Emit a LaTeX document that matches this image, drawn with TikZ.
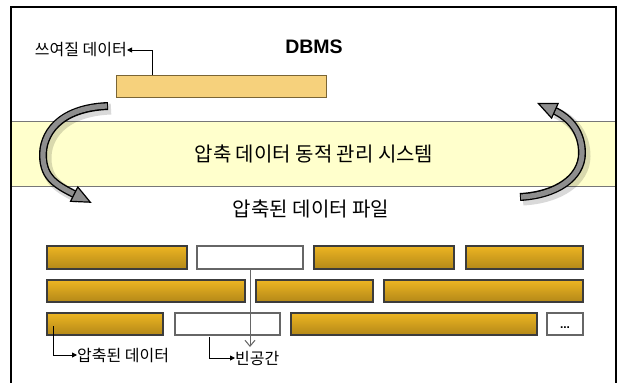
\documentclass[tikz,border=0pt]{standalone}
\usepackage{fontspec}
\newfontfamily\kr{Noto Sans CJK KR}
\newfontfamily\latinfont{Liberation Sans}
\usetikzlibrary{arrows.meta,calc}
\definecolor{bandfill}{HTML}{FFFFCC}
\definecolor{bandline}{HTML}{777777}
\definecolor{goldtop}{HTML}{EDB522}
\definecolor{goldbot}{HTML}{B38818}
\definecolor{goldedge}{HTML}{3C3C3C}
\definecolor{paleorange}{HTML}{F6D17C}
\definecolor{paleedge}{HTML}{7A6535}
\definecolor{arrowgray}{HTML}{8E8E8E}
\definecolor{thinline}{HTML}{666666}
\begin{document}
\begin{tikzpicture}[x=1pt,y=-1pt,
  blk/.style={anchor=north west, inner sep=0pt, outer sep=0pt},
  goldbox/.style={blk, draw=goldedge, line width=1.1pt, top color=goldtop, bottom color=goldbot},
  whitebox/.style={blk, draw=gray!80!black, line width=1.1pt, fill=white},
  krsmall/.style={font=\kr\fontsize{16}{18}\selectfont, inner sep=0pt},
  krbig/.style={font=\kr\fontsize{20}{22}\selectfont, inner sep=0pt},
  labelarrow/.style={line width=0.9pt, -{Triangle[length=5pt,width=5pt]}},
  curvebody/.style={line width=8pt, black, line cap=butt},
  curveinner/.style={line width=5.2pt, arrowgray, line cap=butt},
  curveshadow/.style={line width=11pt, black, opacity=0.15},
  curvehead/.style={draw=black, line width=1.2pt, fill=arrowgray, line join=miter}
]
\useasboundingbox (0,0) rectangle (619,383);
\fill[white] (0,0) rectangle (619,383);

% band
\node[blk, fill=bandfill, minimum width=605pt, minimum height=65pt] (band) at (11,121) {};
\draw[bandline, line width=1pt] (band.north west) -- (band.north east);
\draw[bandline, line width=1pt] (band.south west) -- (band.south east);

% frame
\draw[line width=1.6pt] (11,395) -- (11,7) -- (616,7) -- (616,395);

% top
\node[font=\latinfont\bfseries\fontsize{19.5}{21}\selectfont, inner sep=0pt] (dbms) at (314,47) {DBMS};
\node[blk, draw=paleedge, fill=paleorange, line width=1pt, minimum width=210pt, minimum height=22pt] (wdata) at (116,75) {};
\node[krsmall, anchor=east] (wlabel) at (127,50) {쓰여질 데이터};
\coordinate (wstart) at (152,75);
\draw[labelarrow] (wstart) |- (wlabel.east);

% band texts
\node[krbig] (bandtext) at (314,154) {압축 데이터 동적 관리 시스템};
\node[krbig] (filetext) at (311,209) {압축된 데이터 파일};

% curved arrows
\begin{scope}
\draw[curveshadow, shift={(3,3)}] (108,106) .. controls (58,108) and (42,135) .. (43,157) .. controls (44,178) and (56,185) .. (76,195);
\draw[curvebody] (108,106) .. controls (58,108) and (42,135) .. (43,157) .. controls (44,178) and (56,185) .. (76,195);
\draw[curveinner] (107,106) .. controls (58,108) and (42,135) .. (43,157) .. controls (44,178) and (56,185) .. (76,195);
\draw[curvehead] (70.6,201.3) -- (90.3,202.2) -- (77.8,187.0) -- cycle;

\draw[curveshadow, shift={(3,3)}] (520,197) .. controls (556,195) and (582,178) .. (582,153) .. controls (582,133) and (571,118) .. (553,110);
\draw[curvebody] (520,197) .. controls (556,195) and (582,178) .. (582,153) .. controls (582,133) and (571,118) .. (553,110);
\draw[curveinner] (521,197) .. controls (556,195) and (582,178) .. (582,153) .. controls (582,133) and (571,118) .. (553,110);
\draw[curvehead] (558.1,103.5) -- (538.4,103.5) -- (551.6,118.1) -- cycle;
\end{scope}

% row 1
\node[goldbox, minimum width=140pt, minimum height=23pt] (r1a) at (47,246) {};
\node[whitebox, minimum width=106pt, minimum height=23pt] (r1b) at (197,246) {};
\node[goldbox, minimum width=140pt, minimum height=23pt] (r1c) at (314,246) {};
\node[goldbox, minimum width=117pt, minimum height=23pt] (r1d) at (466,246) {};
% row 2
\node[goldbox, minimum width=198pt, minimum height=22pt] (r2a) at (47,280) {};
\node[goldbox, minimum width=117pt, minimum height=22pt] (r2b) at (256,280) {};
\node[goldbox, minimum width=199pt, minimum height=22pt] (r2c) at (384,280) {};
% row 3
\node[goldbox, minimum width=116pt, minimum height=22pt] (r3a) at (47,313) {};
\node[whitebox, minimum width=105pt, minimum height=22pt] (r3b) at (175,313) {};
\node[goldbox, minimum width=246pt, minimum height=22pt] (r3c) at (291,313) {};
\node[whitebox, minimum width=36pt, minimum height=22pt] (r3d) at (547,313) {};
\node[font=\latinfont\bfseries\fontsize{12}{12}\selectfont, inner sep=0pt] (dots) at (565,328) {...};

% empty space pointer
\coordinate (gapend) at (250,347);
\draw[thinline, line width=1pt, -{Straight Barb[length=6pt,width=10pt]}] (r1b.south) -- (gapend);

% bottom labels
\node[krsmall, anchor=west] (cdata) at (77,355) {압축된 데이터};
\node[krsmall, anchor=west] (empty) at (235,358) {빈공간};
\coordinate (cstart) at (53,326);
\coordinate (estart) at (209,337);
\draw[labelarrow] (cstart) |- (cdata.west);
\draw[labelarrow] (estart) |- (empty.west);
\end{tikzpicture}
\end{document}
